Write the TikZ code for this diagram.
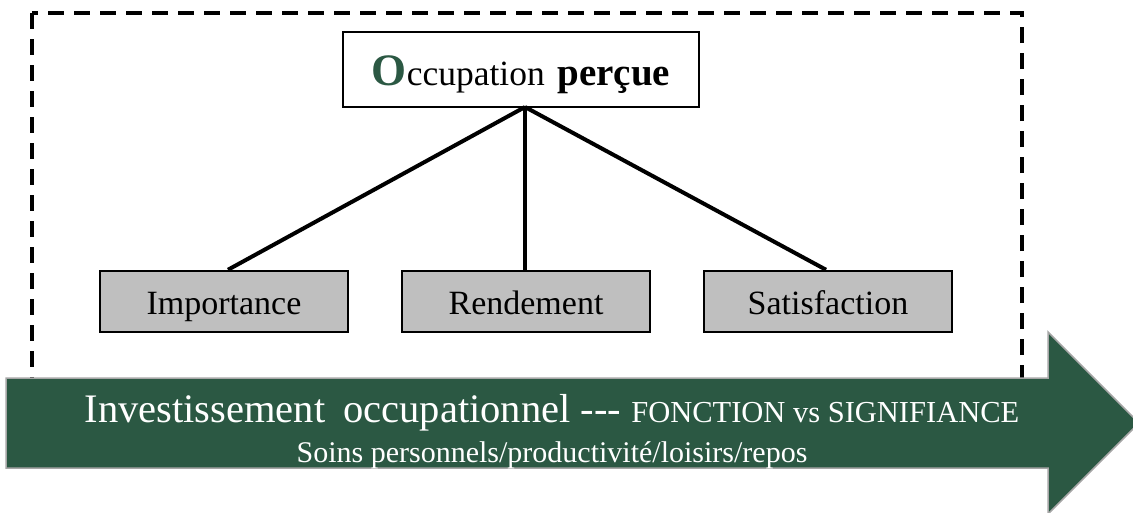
\documentclass[tikz,border=0pt]{standalone}
\usepackage{fontspec}
\setmainfont{Liberation Serif}
\definecolor{arrowgreen}{RGB}{43,88,67}
\definecolor{boxgray}{RGB}{191,191,191}
\begin{document}
\begin{tikzpicture}[x=1pt,y=-1pt,
  dashbox/.style={draw=black,line width=4pt,dash pattern=on 16pt off 10pt},
  topbox/.style={draw=black,line width=2.5pt,fill=white,minimum width=356pt,minimum height=75pt,inner sep=0pt,text height=35pt,text depth=4pt,font=\fontsize{35.5}{40}\selectfont},
  subbox/.style={draw=black,line width=2.5pt,fill=boxgray,minimum width=248pt,minimum height=61pt,inner sep=0pt,text height=27pt,text depth=2pt,font=\fontsize{34}{40}\selectfont},
  link/.style={line width=4pt,draw=black},
  bigarrow/.style={fill=arrowgreen,draw=black!35,line width=1.5pt},
  arrowtext/.style={text=white,anchor=base,inner sep=0pt}]
\useasboundingbox (0,0) rectangle (1133,512);
\clip (0,0) rectangle (1133,512);
\fill[white] (0,0) rectangle (1133,512);
% dashed frame
\draw[dashbox] (31.5,13) rectangle (1021.5,430);
% top box
\node[topbox] (top) at (521,69.5) {{\color{arrowgreen}\bfseries\fontsize{45}{48}\selectfont O}ccupation\hspace{4pt} {\bfseries\fontsize{39}{40}\selectfont perçue}};
\coordinate (hub) at (525,107);
% bottom boxes
\node[subbox] (imp) at (224,301.5) {Importance};
\node[subbox] (ren) at (526,301.5) {Rendement};
\node[subbox] (sat) at (828,301.5) {Satisfaction};
% links
\draw[link] (hub) -- (imp.north -| 228,0);
\draw[link] (hub) -- (ren.north -| 525,0);
\draw[link] (hub) -- (sat.north -| 826,0);
% big arrow
\draw[bigarrow] (6,378) -- (1048,378) -- (1048,332) -- (1139,423) -- (1048,514) -- (1048,468) -- (6,468) -- cycle;
\node[arrowtext,font=\fontsize{40.5}{46}\selectfont] (inv) at (552,422) {Investissement\hspace{8pt} occupationnel -{}-{}- {\fontsize{30.5}{36}\selectfont FONCTION vs SIGNIFIANCE}};
\node[arrowtext,font=\fontsize{30}{36}\selectfont] (soins) at (552,462) {Soins personnels/productivité/loisirs/repos};
\end{tikzpicture}
\end{document}
